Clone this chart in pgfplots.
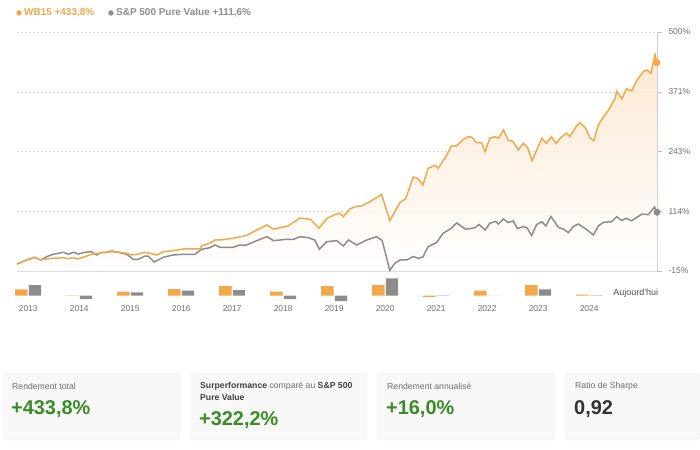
\documentclass[border=0pt]{standalone}
\usepackage{fontspec}
\setmainfont{Liberation Sans}
\usepackage{pgfplots}
\usepackage{pgfplotstable}
\pgfplotsset{compat=1.18}

\definecolor{wbor}{RGB}{242,167,72}
\definecolor{spgrey}{RGB}{140,140,140}
\definecolor{peach}{RGB}{252,229,203}
\definecolor{gain}{RGB}{58,140,38}
\definecolor{lbl}{RGB}{110,110,110}
\definecolor{cardbg}{RGB}{248,248,248}
\definecolor{cardln}{RGB}{236,236,236}

% cumulative performance (%), decimal years
\pgfplotstableread{
t v
2012.78 0
2012.97 8.7
2013.13 14.5
2013.24 8.7
2013.30 10.2
2013.49 12.4
2013.69 13.7
2013.79 11.5
2013.88 13.7
2013.98 10.9
2014.11 15.8
2014.24 21.0
2014.37 23.1
2014.54 25.3
2014.64 26.6
2014.80 25.3
2014.93 23.1
2015.03 19.5
2015.16 21.6
2015.29 25.3
2015.39 23.1
2015.52 19.5
2015.65 26.6
2015.84 28.7
2016.04 32.4
2016.24 32.4
2016.37 32.4
2016.40 39.5
2016.56 44.7
2016.66 51.8
2016.76 51.8
2017.02 55.5
2017.28 61.5
2017.48 73.4
2017.68 84.1
2017.81 75.1
2018.09 82.0
2018.33 99.2
2018.54 96.0
2018.70 77.0
2018.86 98.6
2019.02 106.8
2019.11 109.3
2019.18 102.0
2019.31 119.0
2019.44 124.4
2019.54 125.1
2019.70 134.3
2019.93 149.9
2020.09 93.4
2020.29 132.6
2020.40 140.2
2020.55 187.6
2020.65 183.3
2020.74 170.3
2020.84 206.3
2020.98 212.4
2021.04 206.3
2021.21 235.0
2021.30 254.4
2021.40 254.4
2021.53 268.8
2021.63 274.4
2021.70 273.1
2021.79 261.5
2021.89 261.5
2021.96 242.1
2022.05 271.0
2022.15 274.4
2022.22 271.0
2022.32 288.9
2022.41 267.3
2022.51 263.6
2022.61 245.8
2022.71 260.2
2022.79 251.6
2022.88 222.7
2023.07 271.0
2023.16 260.2
2023.26 274.4
2023.35 260.2
2023.46 274.4
2023.56 281.7
2023.62 274.4
2023.75 297.5
2023.82 304.6
2023.92 294.7
2024.02 271.0
2024.09 265.8
2024.18 299.6
2024.28 317.5
2024.37 330.4
2024.51 357.2
2024.54 372.5
2024.64 355.7
2024.73 377.6
2024.83 372.9
2024.93 394.9
2025.06 414.5
2025.13 418.2
2025.21 411.0
2025.29 451.1
2025.33 433.8
}\wbdata

\pgfplotstableread{
t v
2012.78 0
2012.97 8.7
2013.13 14.5
2013.24 8.7
2013.36 15.8
2013.49 21.0
2013.69 25.3
2013.79 21.0
2013.88 25.3
2013.98 21.6
2014.11 25.3
2014.24 26.6
2014.34 19.5
2014.44 25.3
2014.54 25.3
2014.64 28.1
2014.80 24.4
2014.93 21.0
2015.06 10.2
2015.16 10.2
2015.29 17.3
2015.35 17.3
2015.47 4.4
2015.65 14.5
2015.84 19.5
2016.04 21.0
2016.27 21.0
2016.40 31.8
2016.56 35.2
2016.66 41.0
2016.76 36.1
2017.02 36.1
2017.15 41.0
2017.28 41.0
2017.48 50.3
2017.68 58.9
2017.81 50.3
2018.07 53.3
2018.20 53.3
2018.33 58.9
2018.49 56.8
2018.62 51.8
2018.71 31.8
2018.85 48.1
2019.05 50.3
2019.18 38.9
2019.28 51.8
2019.44 41.0
2019.64 51.8
2019.83 58.9
2019.94 50.7
2020.09 -13.5
2020.19 1.6
2020.29 8.7
2020.42 8.7
2020.55 16.2
2020.65 12.4
2020.74 15.2
2020.84 37.4
2021.01 46.4
2021.13 65.8
2021.29 76.6
2021.40 88.4
2021.58 74.9
2021.76 78.3
2021.84 85.2
2021.96 73.4
2022.05 87.8
2022.17 91.7
2022.22 86.3
2022.32 97.1
2022.41 89.5
2022.51 92.8
2022.59 76.6
2022.71 80.5
2022.78 78.3
2022.87 61.5
2022.97 85.2
2023.07 91.2
2023.15 82.0
2023.25 102.4
2023.40 78.7
2023.50 74.9
2023.59 67.5
2023.69 80.9
2023.79 86.3
2023.96 73.4
2024.08 62.6
2024.18 82.0
2024.28 89.9
2024.44 91.2
2024.54 102.0
2024.64 93.8
2024.73 98.6
2024.83 93.2
2025.03 107.4
2025.16 106.5
2025.28 122.9
2025.33 111.6
}\spdata

% yearly bars
\pgfplotstableread{
year wb sp
2013 19 32
2014 1 -10
2015 12 10
2016 20 15
2017 29 17
2018 12 -10
2019 29 -16
2020 32 52
2021 -4 1
2022 15 0
2023 32 19
2024 3 1
}\bars

\begin{document}
\begin{tikzpicture}[x=1bp,y=1bp]
\useasboundingbox (0,0) rectangle (700,450);

% legend on top
\fill[wbor] (19,437) circle (2.7);
\node[anchor=west, inner sep=0, text=wbor, font=\bfseries\fontsize{10}{12}\selectfont] at (24,437) {WB15 +433,8\%};
\fill[spgrey] (111,437) circle (2.7);
\node[anchor=west, inner sep=0, text=spgrey, font=\bfseries\fontsize{10}{12}\selectfont] at (116,437) {S\&P 500 Pure Value +111,6\%};

\begin{axis}[
    at={(17bp,179bp)}, anchor=south west,
    scale only axis, width=640bp, height=239bp,
    xmin=2012.78, xmax=2025.33,
    ymin=-15, ymax=500,
    axis x line*=bottom, axis y line*=right,
    xtick=\empty,
    ytick={-15,113.75,242.5,371.25,500},
    yticklabels={-15\%,114\%,243\%,371\%,500\%},
    yticklabel style={font=\fontsize{8.5}{10}\selectfont, text=lbl, xshift=3bp},
    ymajorgrids,
    major grid style={gray!30, dash pattern=on 2bp off 2bp},
    x axis line style={gray!25, line width=1.2bp},
    y axis line style={gray!40},
    tick align=outside,
    major tick length=5bp,
    tick style={gray!50},
    clip=false,
]
\addplot[draw=none, top color=peach, bottom color=white, fill opacity=0.85]
    table[x=t,y=v]{\wbdata} |- (axis cs:2012.78,-15) -- cycle;
\addplot[spgrey, line width=1.5bp] table[x=t,y=v]{\spdata};
\addplot[wbor, line width=1.5bp] table[x=t,y=v]{\wbdata};
\addplot[only marks, mark=*, mark size=3.2bp, spgrey] coordinates {(2025.33,111.6)};
\addplot[only marks, mark=*, mark size=3.2bp, wbor] coordinates {(2025.33,433.8)};
\end{axis}

\begin{axis}[
    at={(17bp,146.3bp)}, anchor=south west,
    scale only axis, width=640bp, height=28bp,
    xmin=2012.78, xmax=2025.33,
    ymin=-24, ymax=60,
    ybar=1.2bp, bar width=12.4bp,
    axis line style={draw=none},
    ytick=\empty,
    xtick={2013,2014,2015,2016,2017,2018,2019,2020,2021,2022,2023,2024},
    xticklabels={2013,2014,2015,2016,2017,2018,2019,2020,2021,2022,2023,2024},
    xticklabel style={font=\fontsize{8.5}{10}\selectfont, text=lbl, yshift=1.5bp},
    major tick length=0pt,
    clip=false,
]
\addplot[fill=wbor, draw=none] table[x=year,y=wb]{\bars};
\addplot[fill=spgrey, draw=none] table[x=year,y=sp]{\bars};
\node[anchor=west, inner sep=0, text=black!70, font=\fontsize{9}{11}\selectfont] at (axis cs:2024.47,8) {Aujourd'hui};
\end{axis}

% summary cards
\filldraw[fill=cardbg, draw=cardln, rounded corners=3] (3,10) rectangle (180,77);
\filldraw[fill=cardbg, draw=cardln, rounded corners=3] (190,10) rectangle (366.5,77);
\filldraw[fill=cardbg, draw=cardln, rounded corners=3] (377.5,10) rectangle (555,77);
\filldraw[fill=cardbg, draw=cardln, rounded corners=3] (565,10) rectangle (699.5,77);

\node[anchor=west, inner sep=0, text=lbl, font=\fontsize{8.7}{10}\selectfont] at (12,64) {Rendement total};
\node[anchor=west, inner sep=0, text=gain, font=\bfseries\fontsize{20}{24}\selectfont] at (11,41) {+433,8\%};

\node[anchor=west, inner sep=0, text=lbl, font=\fontsize{8.7}{10}\selectfont] at (200,64) {\textbf{\color{black!75}Surperformance} compar\'e au \textbf{\color{black!75}S\&P 500}};
\node[anchor=west, inner sep=0, text=black!75, font=\bfseries\fontsize{8.7}{10}\selectfont] at (200,53) {Pure Value};
\node[anchor=west, inner sep=0, text=gain, font=\bfseries\fontsize{20}{24}\selectfont] at (199,30) {+322,2\%};

\node[anchor=west, inner sep=0, text=lbl, font=\fontsize{8.7}{10}\selectfont] at (387,64) {Rendement annualis\'e};
\node[anchor=west, inner sep=0, text=gain, font=\bfseries\fontsize{20}{24}\selectfont] at (386,41) {+16,0\%};

\node[anchor=west, inner sep=0, text=lbl, font=\fontsize{8.7}{10}\selectfont] at (575,64) {Ratio de Sharpe};
\node[anchor=west, inner sep=0, text=black!80, font=\bfseries\fontsize{20}{24}\selectfont] at (574,41) {0,92};
\end{tikzpicture}
\end{document}
